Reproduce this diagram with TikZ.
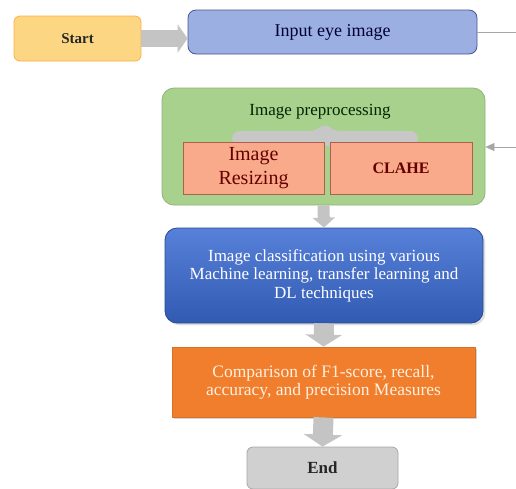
\documentclass[tikz,border=0pt]{standalone}
\usepackage{fontspec}
\setmainfont{Liberation Serif}
\usepackage{xcolor}
\usetikzlibrary{arrows.meta, positioning, shadows}
\definecolor{startyellow}{RGB}{252, 214, 130}
\definecolor{inputblue}{RGB}{156, 175, 227}
\definecolor{prepgreen}{RGB}{169, 209, 142}
\definecolor{stepsalmon}{RGB}{248, 170, 138}
\definecolor{classblue}{RGB}{58, 106, 210}
\definecolor{compareorange}{RGB}{240, 126, 44}
\definecolor{endgray}{RGB}{208, 208, 208}
\definecolor{arrowgray}{RGB}{196, 196, 196}

\begin{document}
\begin{tikzpicture}[
    x=1pt, y=-1pt,
    stage/.style={rectangle, rounded corners=#1, thick, align=center, inner sep=0pt},
    substep/.style={rectangle, draw=stepsalmon!80!red!70!black, fill=stepsalmon,
                    thick, minimum width=141pt, minimum height=52pt, align=center,
                    text=red!40!black},
    fatarrow/.style n args={3}{line width=#1, arrowgray, -{Triangle[width=#2, length=#3]}}
]
    \useasboundingbox (0,0) rectangle (516,488);

    \node[stage=6pt, draw=orange!45!startyellow, fill=startyellow,
          minimum width=127pt, minimum height=45pt, text=black!85,
          font=\fontsize{15}{18}\selectfont\bfseries]
          (start) at (77.5, 38.5) {Start};

    \node[stage=8pt, draw=inputblue!80!blue!60!black, fill=inputblue,
          minimum width=289pt, minimum height=44pt, text=blue!20!black,
          font=\fontsize{18}{21}\selectfont]
          (input) at (332.5, 32) {Input eye image};

    % preprocessing group with its two steps
    \node[stage=12pt, draw=prepgreen!85!black, fill=prepgreen,
          minimum width=323pt, minimum height=117pt]
          (prep) at (323.5, 146.5) {};
    \node[text=green!15!black, font=\fontsize{17}{20}\selectfont]
          (preptitle) at (320, 112) {Image preprocessing};
    \fill[black!22, rounded corners=8pt] (232,146) -- (232,131) -- (318,131)
          -- (325,122) -- (332,131) -- (418,131) -- (418,146) -- cycle;
    \node[substep, font=\fontsize{20}{24}\selectfont]
          (resize) at (253.5, 168) {Image\\ Resizing};
    \node[substep, minimum width=142pt, font=\fontsize{16}{19}\selectfont\bfseries]
          (clahe) at (401, 168) {CLAHE};

    \node[stage=12pt, draw=classblue!70!black, top color=classblue!85!white,
          bottom color=classblue!85!black, drop shadow={opacity=0.25},
          minimum width=318pt, minimum height=95pt, text=white,
          font=\fontsize{17}{18.5}\selectfont]
          (classify) at (324, 275.5) {Image classification using various\\
          Machine learning, transfer learning and\\
          DL techniques};

    \node[stage=0pt, draw=compareorange!90!black, fill=compareorange,
          drop shadow={opacity=0.35}, minimum width=303pt, minimum height=70pt,
          text=orange!12!white, font=\fontsize{17.5}{18.5}\selectfont]
          (compare) at (323.5, 382) {Comparison of F1-score, recall,\\
          accuracy, and precision Measures};

    \node[stage=6pt, draw=black!35, fill=endgray,
          minimum width=151pt, minimum height=42pt, text=black!85,
          font=\fontsize{17}{20}\selectfont\bfseries]
          (finish) at (322.5, 468) {End};

    % Arrows
    \coordinate (outright) at (516, 32);
    \coordinate (inright) at (516, 147);
    \draw[fatarrow={17pt}{28pt}{10pt}] (start.east) -- (start.east -| input.west);
    \draw[fatarrow={12pt}{22pt}{10pt}] (prep.south) -- (classify.north);
    \draw[fatarrow={20pt}{36pt}{12pt}] (classify.south) -- (compare.north);
    \draw[fatarrow={20pt}{38pt}{12pt}] (compare.south) -- (finish.north);
    \draw[black!35] (input.east) -- (outright);
    \draw[black!35, -{Triangle[width=8pt, length=9pt]}] (inright) -- (inright -| prep.east);
\end{tikzpicture}
\end{document}
